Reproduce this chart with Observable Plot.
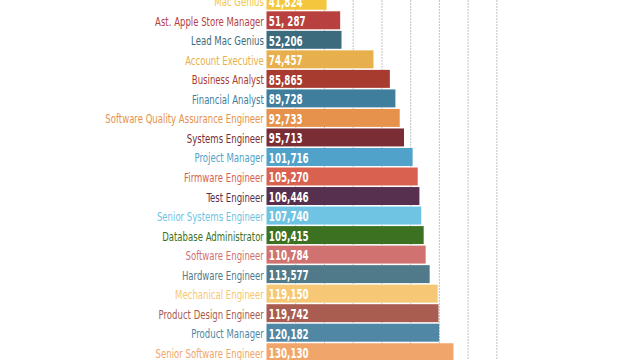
<!DOCTYPE html>
<html>
<head>
<meta charset="utf-8">
<script src="https://cdn.jsdelivr.net/npm/d3@7"></script>
<script src="https://cdn.jsdelivr.net/npm/@observablehq/plot@0.6"></script>
<style>
  html, body { margin: 0; padding: 0; background: #fff; overflow: hidden; width: 640px; height: 360px; }
  #chart { width: 640px; height: 360px; overflow: hidden; position: relative; }
  #chart svg { display: block; position: absolute; left: 0; top: -9px; }
</style>
</head>
<body>
<div id="chart"></div>
<script>
const jobs = [
  "Mac Genius", "Ast. Apple Store Manager", "Lead Mac Genius", "Account Executive",
  "Business Analyst", "Financial Analyst", "Software Quality Assurance Engineer",
  "Systems Engineer", "Project Manager", "Firmware Engineer", "Test Engineer",
  "Senior Systems Engineer", "Database Administrator", "Software Engineer",
  "Hardware Engineer", "Mechanical Engineer", "Product Design Engineer",
  "Product Manager", "Senior Software Engineer"
];
const salaries = [41824, 51287, 52206, 74457, 85865, 89728, 92733, 95713, 101716, 105270,
  106446, 107740, 109415, 110784, 113577, 119150, 119742, 120182, 130130];
const salaryLabels = ["41,824", "51, 287", "52,206", "74,457", "85,865", "89,728", "92,733",
  "95,713", "101,716", "105,270", "106,446", "107,740", "109,415", "110,784", "113,577",
  "119,150", "119,742", "120,182", "130,130"];
const palette = ["#f4c63d", "#b8403f", "#3c6b7e", "#e8b04c", "#a83b30", "#3f7e9c", "#e6924a",
  "#7a2d35", "#50a2cb", "#d9614f", "#57304f", "#6fc4e4", "#3b7121", "#cf7270", "#507a8a",
  "#f6c774", "#a95c50", "#4f87a5", "#f0a66a"];
const gridTicks = [20000, 40000, 60000, 80000, 100000, 120000, 140000, 160000];

const data = jobs.map((name, i) => ({
  name, value: salaries[i], label: salaryLabels[i], color: palette[i]
}));

const font = "'Liberation Sans Narrow', 'DejaVu Sans Condensed', 'Roboto', sans-serif";
const x0 = 266.5;
const nameScale = 0.76, valueScale = 0.72;

const chart = Plot.plot({
  width: 640,
  height: 371,
  marginLeft: x0,
  marginRight: 0,
  marginTop: 0,
  marginBottom: 0,
  style: { background: "#fff", fontFamily: font },
  x: { domain: [0, 260000], axis: null },
  y: { domain: jobs, paddingInner: 0.08, paddingOuter: 0.04, round: false, axis: null },
  color: { type: "identity" },
  marks: [
    Plot.ruleX(gridTicks, { stroke: "#c4c4c4", strokeWidth: 1, strokeDasharray: "2,1" }),
    Plot.barX(data, { x: "value", y: "name", fill: "color" }),
    Plot.text(data, {
      x: 0, y: "name", text: "name", fill: "color", textAnchor: "end",
      dx: -3 / nameScale, dy: 1, fontSize: 12.5, fontFamily: font
    }),
    Plot.text(data, {
      x: 0, y: "name", text: "label", fill: "#fff", textAnchor: "start",
      dx: 2 / valueScale, dy: 1, fontSize: 13.5, fontWeight: "bold", fontFamily: font
    })
  ]
});
document.getElementById("chart").append(chart);

// narrow the glyphs horizontally (about the bar baseline) to mimic the condensed face
const groups = chart.querySelectorAll('g[aria-label="text"]');
const factors = [nameScale, valueScale];
groups.forEach((g, gi) => {
  const wrap = document.createElementNS("http://www.w3.org/2000/svg", "g");
  wrap.setAttribute("transform",
    `translate(${x0},0) scale(${factors[gi]},1) translate(${-x0},0)`);
  g.parentNode.insertBefore(wrap, g);
  wrap.appendChild(g);
});
</script>
</body>
</html>
